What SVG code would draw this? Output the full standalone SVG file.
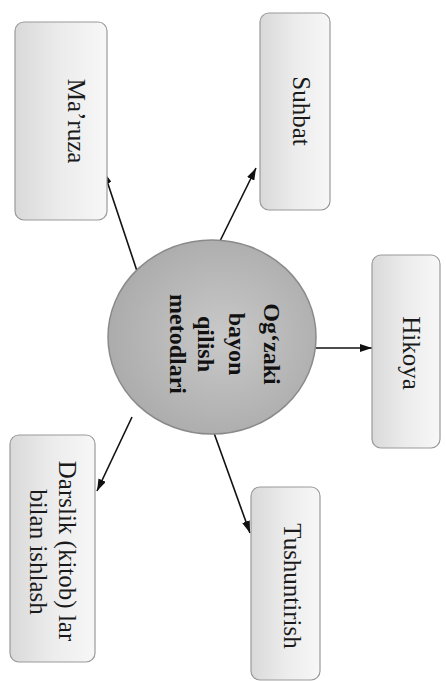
<svg xmlns="http://www.w3.org/2000/svg" width="446" height="681" viewBox="0 0 446 681">
<defs>
<linearGradient id="boxg" x1="0" y1="0" x2="1" y2="0">
<stop offset="0" stop-color="#d9d9d9"/>
<stop offset="0.5" stop-color="#ececec"/>
<stop offset="1" stop-color="#f7f7f7"/>
</linearGradient>
<radialGradient id="circg" cx="0.55" cy="0.5" r="0.6">
<stop offset="0" stop-color="#c9c9c9"/>
<stop offset="1" stop-color="#a9a9a9"/>
</radialGradient>
<marker id="ah" viewBox="0 0 12 8" refX="12" refY="4" markerWidth="12" markerHeight="8" markerUnits="userSpaceOnUse" orient="auto">
<path d="M0,0 L12,4 L0,8 Z" fill="#111"/>
</marker>
</defs>
<style>
.box{fill:url(#boxg);stroke:#9a9a9a;stroke-width:1.2}
.lbl{font-family:"Liberation Serif","Times New Roman",serif;font-size:25px;fill:#1a1a1a;text-anchor:middle;dominant-baseline:central}
.ctr{font-family:"Liberation Serif","Times New Roman",serif;font-size:24px;font-weight:bold;fill:#111;text-anchor:middle;dominant-baseline:central}
.con{stroke:#111;stroke-width:1.6;fill:none;marker-end:url(#ah)}
</style>
<rect width="446" height="681" fill="#ffffff"/>
<g id="connectors">
<line class="con" x1="137" y1="271" x2="104" y2="172"/>
<line class="con" x1="220" y1="241" x2="256" y2="168"/>
<line class="con" x1="316" y1="348" x2="372" y2="348"/>
<line class="con" x1="214" y1="433" x2="250" y2="533"/>
<line class="con" x1="132" y1="417" x2="97" y2="491"/>
</g>
<g id="center">
<ellipse cx="212" cy="337" rx="104" ry="97" fill="url(#circg)" stroke="#8a8a8a" stroke-width="1.5"/>
<text class="ctr" transform="translate(272,344) rotate(90)">Og‘zaki</text>
<text class="ctr" transform="translate(237,344) rotate(90)">bayon</text>
<text class="ctr" transform="translate(206,344) rotate(90)">qilish</text>
<text class="ctr" transform="translate(178,344) rotate(90)">metodlari</text>
</g>
<g id="maruza">
<rect class="box" x="15" y="22" width="92" height="198" rx="9"/>
<text class="lbl" transform="translate(76,121) rotate(90)">Ma’ruza</text>
</g>
<g id="suhbat">
<rect class="box" x="260" y="13" width="70" height="197" rx="9"/>
<text class="lbl" transform="translate(301,111) rotate(90)">Suhbat</text>
</g>
<g id="hikoya">
<rect class="box" x="372" y="255" width="68" height="193" rx="9"/>
<text class="lbl" transform="translate(411,353) rotate(90)">Hikoya</text>
</g>
<g id="tushuntirish">
<rect class="box" x="251" y="487" width="69" height="193" rx="9"/>
<text class="lbl" transform="translate(292,586) rotate(90)">Tushuntirish</text>
</g>
<g id="darslik">
<rect class="box" x="10" y="435" width="85" height="227" rx="9"/>
<text class="lbl" transform="translate(67,551) rotate(90)">Darslik (kitob) lar</text>
<text class="lbl" transform="translate(38,552) rotate(90)">bilan ishlash</text>
</g>
</svg>
